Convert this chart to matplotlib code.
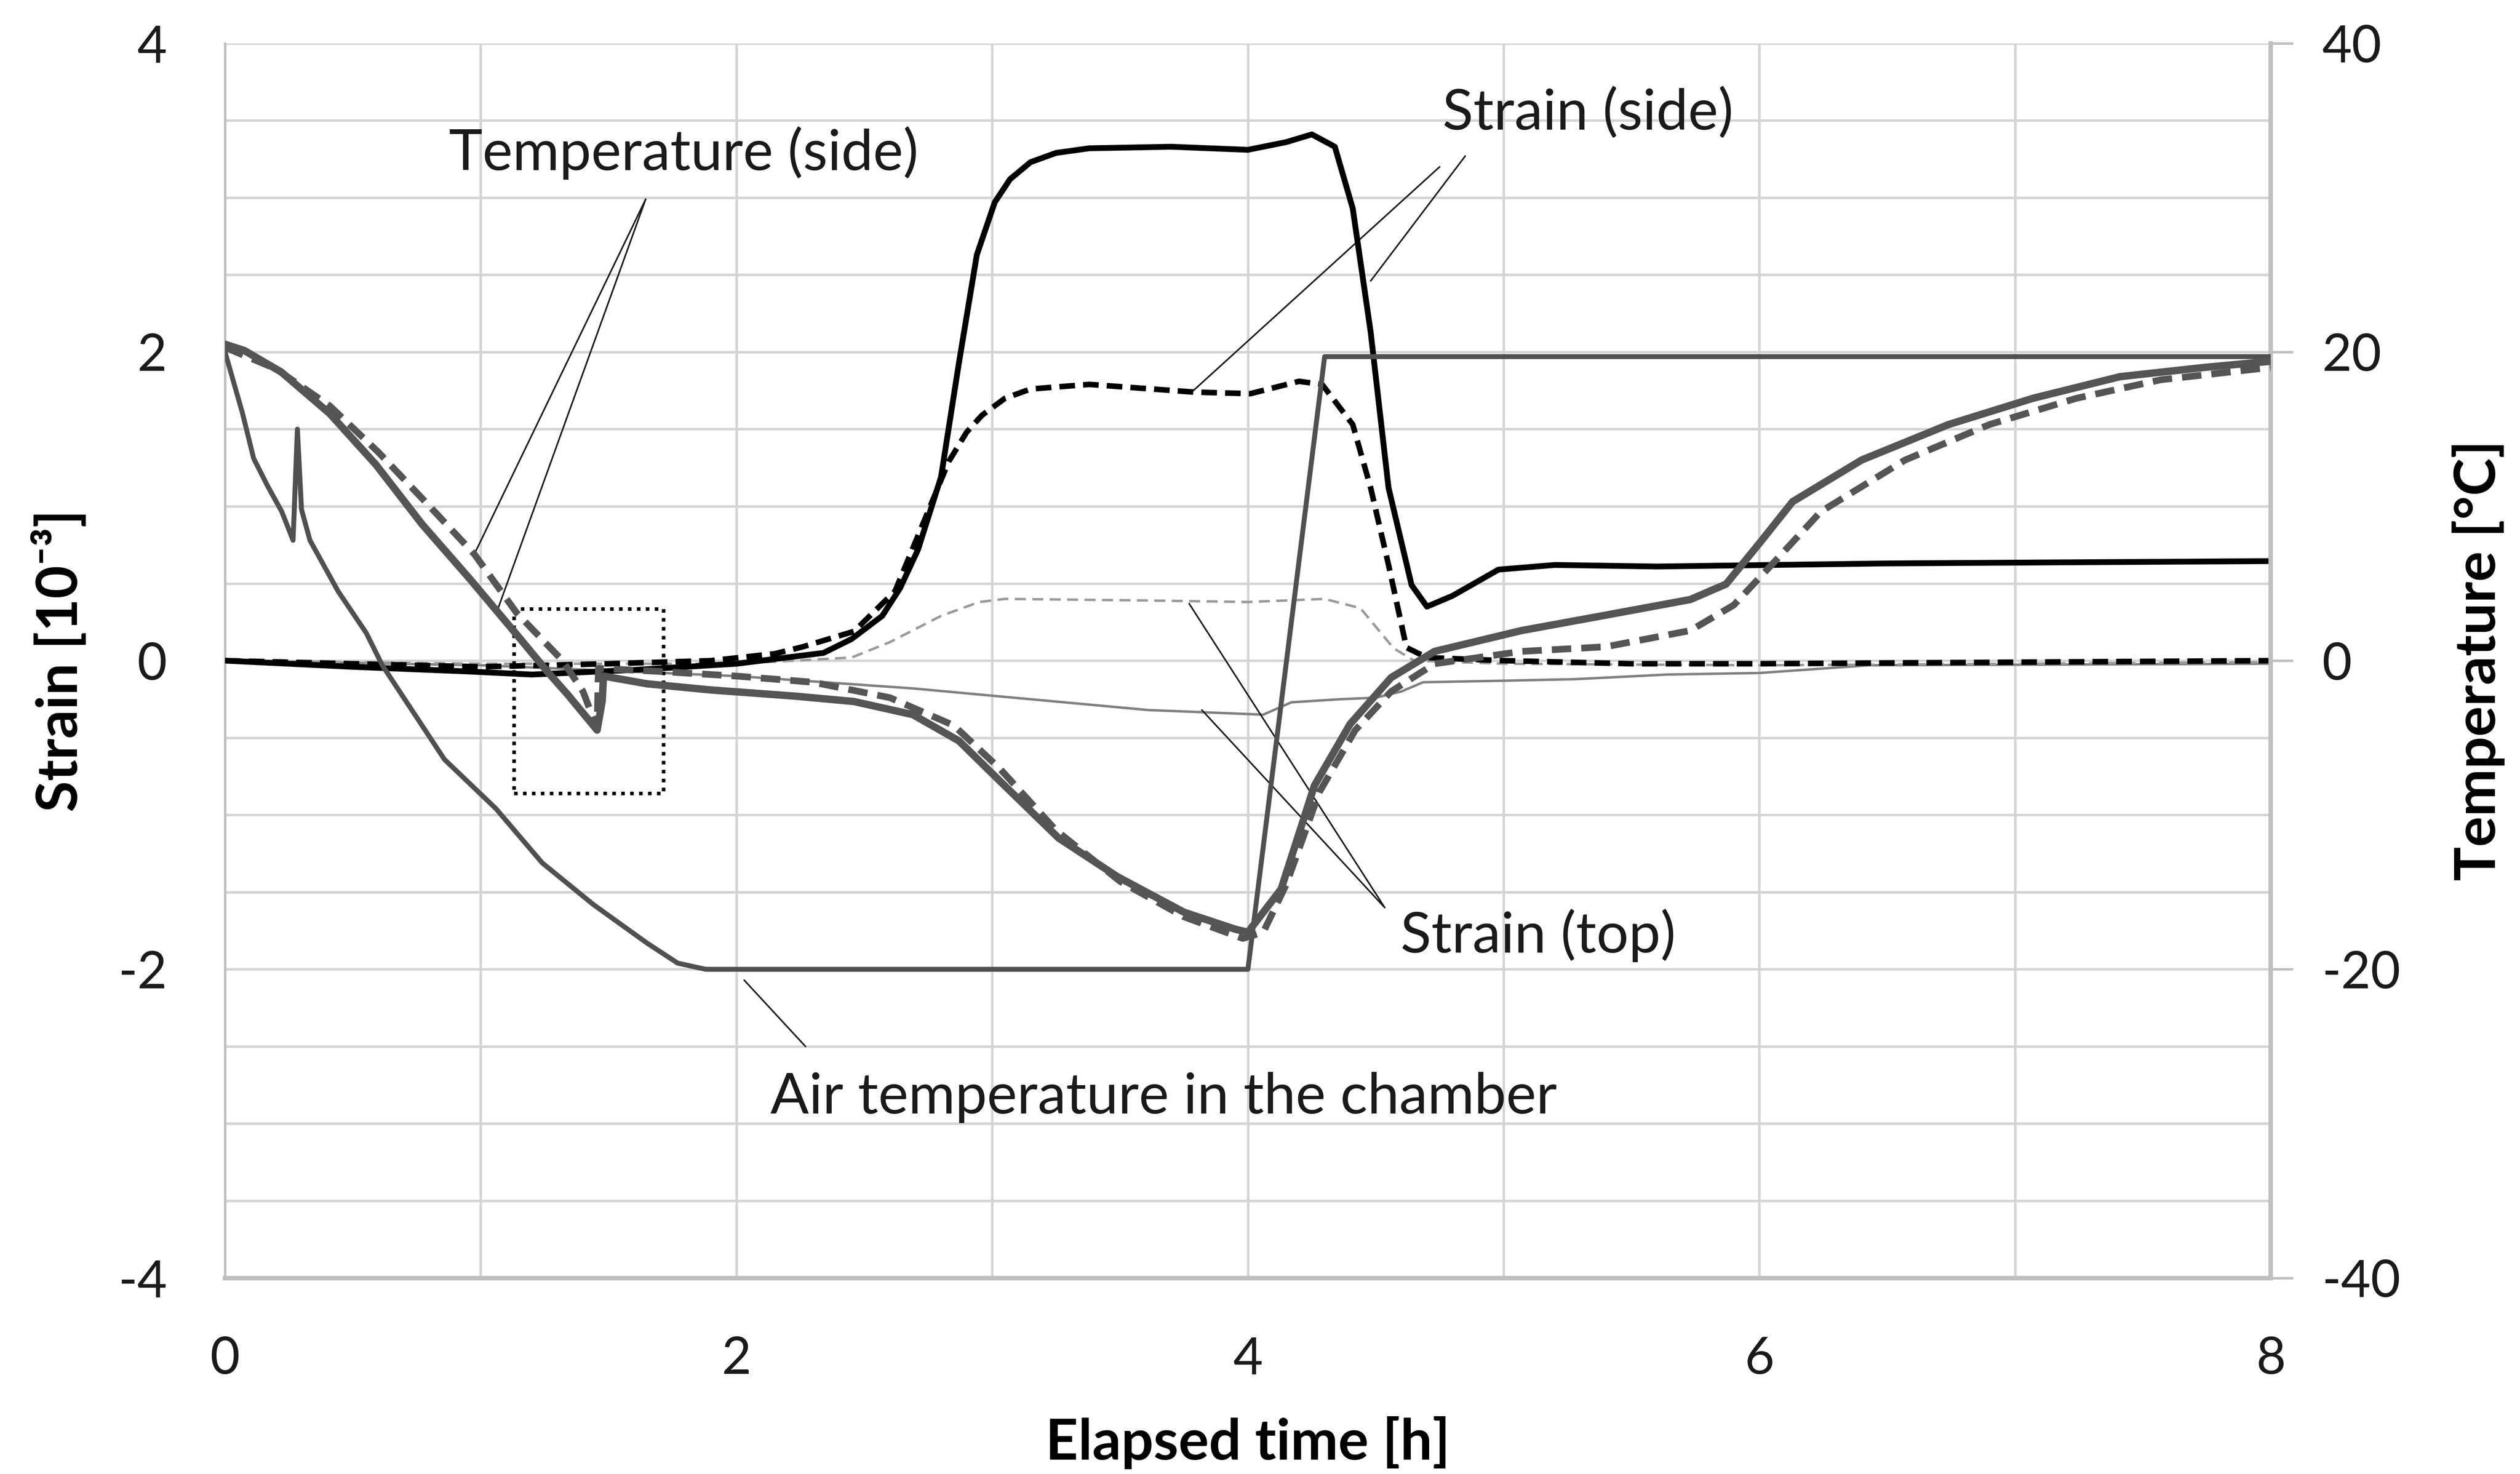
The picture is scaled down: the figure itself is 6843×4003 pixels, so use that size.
import numpy as np
import matplotlib
matplotlib.use('Agg')
import matplotlib.pyplot as plt
from matplotlib.patches import Rectangle
from matplotlib.ticker import MultipleLocator

plt.rcParams['font.family'] = ['Lato', 'DejaVu Sans']
plt.rcParams['axes.unicode_minus'] = False

# ---- data ----
# air temperature in the chamber [degC]
air_t = [0, 0.068, 0.112, 0.167, 0.222, 0.266, 0.283, 0.299, 0.332, 0.442, 0.552, 0.615,
         0.858, 1.06, 1.24, 1.44, 1.65, 1.77, 1.88, 4.0, 4.3, 8.0]
air_T = [20, 16.05, 13.1, 11.3, 9.65, 7.8, 15.0, 9.8, 7.8, 4.5, 1.8, -0.3,
         -6.4, -9.6, -13.1, -15.8, -18.3, -19.6, -20, -20, 19.7, 19.7]

# temperature (side), solid [degC]
temp_s_t = [0, 0.075, 0.22, 0.41, 0.59, 0.77, 0.957, 1.14, 1.26, 1.34, 1.455, 1.475, 1.48,
            1.65, 1.90, 2.23, 2.46, 2.69, 2.87, 3.03, 3.26, 3.49, 3.75, 3.95, 4.0,
            4.13, 4.26, 4.40, 4.56, 4.73, 5.07, 5.40, 5.73, 5.87, 6.0, 6.13, 6.40,
            6.74, 7.07, 7.41, 7.74, 8.0]
temp_s_T = [20.5, 20.1, 18.7, 16.0, 12.7, 8.85, 5.3, 1.7, -0.7, -2.2, -4.5, -2.6, -1.0,
            -1.5, -1.9, -2.3, -2.65, -3.5, -5.2, -7.8, -11.5, -14.0, -16.3, -17.4, -17.6,
            -14.8, -8.1, -4.1, -1.1, 0.6, 1.95, 2.95, 3.96, 4.96, 7.6, 10.3, 13.0,
            15.3, 17.0, 18.4, 19.0, 19.4]

# temperature (side), dashed [degC]
temp_d_t = [0, 0.2, 0.41, 0.6, 0.8, 0.975, 1.14, 1.32, 1.40, 1.455, 1.46,
            1.7, 2.0, 2.3, 2.6, 2.85, 3.03, 3.25, 3.5, 3.75, 3.98,
            4.06, 4.15, 4.28, 4.42, 4.56, 4.73, 5.07, 5.40, 5.73, 5.9, 6.07, 6.24,
            6.57, 6.90, 7.24, 7.57, 8.0]
temp_d_T = [20.3, 18.9, 16.5, 13.5, 10.0, 6.9, 3.1, 0.0, -2.0, -4.4, -0.5,
            -0.7, -1.0, -1.4, -2.4, -4.2, -7.0, -11.0, -14.3, -16.6, -18.0,
            -17.6, -14.5, -8.5, -4.5, -2.0, -0.2, 0.6, 0.9, 1.95, 3.6, 6.6, 9.65,
            13.0, 15.3, 17.0, 18.2, 19.0]

# strain (side), solid [1e-3]
side_s_t = [0, 0.5, 0.95, 1.2, 1.6, 2.0, 2.34, 2.45, 2.57, 2.64, 2.71, 2.80, 2.87, 2.94,
            3.01, 3.07, 3.15, 3.25, 3.38, 3.7, 4.0, 4.15, 4.25, 4.34, 4.41, 4.48, 4.55,
            4.64, 4.70, 4.8, 4.98, 5.2, 5.6, 6.5, 8.0]
side_s = [0, -0.04, -0.07, -0.09, -0.06, -0.02, 0.05, 0.14, 0.29, 0.47, 0.72, 1.19, 1.93, 2.63,
          2.97, 3.12, 3.23, 3.29, 3.32, 3.33, 3.31, 3.36, 3.41, 3.33, 2.93, 2.13, 1.12,
          0.49, 0.35, 0.42, 0.59, 0.62, 0.61, 0.63, 0.645]

# strain (side), dashed [1e-3]
side_d_t = [0, 0.5, 1.0, 1.5, 1.9, 2.15, 2.26, 2.46, 2.62, 2.73, 2.83, 2.9, 2.96, 3.05, 3.15,
            3.38, 3.79, 4.01, 4.20, 4.29, 4.41, 4.48, 4.55, 4.62, 4.7, 5.0, 5.5, 6.0, 7.0, 8.0]
side_d = [0, -0.02, -0.04, -0.02, 0.0, 0.045, 0.09, 0.19, 0.45, 0.89, 1.29, 1.48, 1.59, 1.70,
          1.76, 1.79, 1.74, 1.73, 1.81, 1.79, 1.53, 1.12, 0.62, 0.085, 0.02, 0.0, -0.02,
          -0.02, -0.01, 0.0]

# strain (top), solid [1e-3]
top_s_t = [0, 1.0, 2.0, 2.69, 3.15, 3.61, 4.06, 4.17, 4.36, 4.5, 4.6, 4.685, 5.0, 5.28,
           5.64, 6.0, 6.43, 8.0]
top_s = [0, -0.03, -0.1, -0.18, -0.25, -0.32, -0.35, -0.27, -0.25, -0.24, -0.2, -0.14, -0.13,
         -0.12, -0.09, -0.08, -0.03, -0.02]

# strain (top), dashed [1e-3]
top_d_t = [0, 1.0, 2.0, 2.45, 2.6, 2.8, 2.95, 3.05, 3.6, 4.0, 4.3, 4.44, 4.57, 4.65, 5.0,
           6.0, 8.0]
top_d = [0, -0.02, -0.02, 0.02, 0.12, 0.29, 0.38, 0.40, 0.39, 0.38, 0.40, 0.34, 0.08, 0.0,
         -0.02, -0.03, -0.01]

# ---- figure ----
dpi = 6843 / 15.68
fig = plt.figure(figsize=(15.68, 4003 / dpi), dpi=dpi)
ax = fig.add_axes([0.0893, 0.133, 0.8118, 0.8376])
ax2 = ax.twinx()

grid_c = '#d4d4d4'
ax.set_xlim(0, 8)
ax.set_ylim(-4, 4)
ax2.set_ylim(-40, 40)
ax.xaxis.set_major_locator(MultipleLocator(2))
ax.xaxis.set_minor_locator(MultipleLocator(1))
ax.yaxis.set_major_locator(MultipleLocator(2))
ax.yaxis.set_minor_locator(MultipleLocator(0.5))
ax2.yaxis.set_major_locator(MultipleLocator(20))
ax.grid(True, which='both', color=grid_c, lw=1.1)
ax.set_axisbelow(True)

for a in (ax, ax2):
    for s in a.spines.values():
        s.set_color('#bfbfbf')
    a.spines['top'].set_visible(False)
ax.spines['left'].set_linewidth(1.1)
ax.spines['bottom'].set_linewidth(2.0)
ax2.spines['right'].set_linewidth(2.0)
ax2.spines['left'].set_visible(False)
ax2.spines['bottom'].set_visible(False)

ax.tick_params(axis='both', which='both', length=0, labelsize=23, colors='#1a1a1a')
ax.tick_params(axis='y', pad=26)
ax.tick_params(axis='x', pad=26)
ax2.tick_params(axis='y', which='major', length=10, width=1.1, color='#bfbfbf',
                labelsize=23, labelcolor='#1a1a1a', pad=13)
ax2.tick_params(axis='y', which='minor', length=0)

# strain lines
ax.plot(top_s_t, top_s, color='#808080', lw=1.1, zorder=3)
ax.plot(top_d_t, top_d, color='#9a9a9a', lw=1.1, dashes=(4.5, 2.6), zorder=3)
ax.plot(side_d_t, side_d, color='black', lw=2.5, dashes=(2.8, 1.45), zorder=4)
ax.plot(side_s_t, side_s, color='black', lw=2.6, zorder=4)

# temperature lines
ax2.plot(air_t, air_T, color='#505050', lw=2.2, zorder=3)
ax2.plot(temp_d_t, temp_d_T, color='#555555', lw=3.0, dashes=(2.9, 1.5), zorder=3)
ax2.plot(temp_s_t, temp_s_T, color='#555555', lw=3.3, zorder=3)

# labels
ax.set_xlabel('Elapsed time [h]', fontsize=25.5, fontweight='bold', labelpad=15)
ax.set_ylabel('Strain [10⁻³]', fontsize=25.5, fontweight='bold', labelpad=14)
ax2.set_ylabel('Temperature [°C]', fontsize=25.5, fontweight='bold', labelpad=23)

# annotations
lead = dict(arrowstyle='-', color='#1a1a1a', lw=0.7, shrinkA=0, shrinkB=0)
txt = dict(fontsize=25.5, color='#1a1a1a', ha='center', va='center', zorder=6)

ax.text(1.793, 3.29, 'Temperature (side)', **txt)
ax.annotate('', xy=(0.975, 0.69), xytext=(1.645, 2.99), arrowprops=lead)
ax.annotate('', xy=(1.067, 0.335), xytext=(1.645, 2.99), arrowprops=lead)

ax.text(5.33, 3.55, 'Strain (side)', **txt)
ax.annotate('', xy=(3.78, 1.74), xytext=(4.75, 3.20), arrowprops=lead)
ax.annotate('', xy=(4.48, 2.46), xytext=(4.85, 3.27), arrowprops=lead)

ax.text(5.135, -1.78, 'Strain (top)', **txt)
ax.annotate('', xy=(3.77, 0.37), xytext=(4.535, -1.60), arrowprops=lead)
ax.annotate('', xy=(3.82, -0.32), xytext=(4.535, -1.60), arrowprops=lead)

ax.text(3.67, -2.83, 'Air temperature in the chamber', **txt)
ax.annotate('', xy=(2.03, -2.07), xytext=(2.27, -2.50), arrowprops=lead)

ax.add_patch(Rectangle((1.13, -0.86), 0.585, 1.195, fill=False, ec='black',
                       lw=1.6, ls=(0, (1, 1.5)), zorder=5))

fig.savefig('out.png', dpi=dpi)
